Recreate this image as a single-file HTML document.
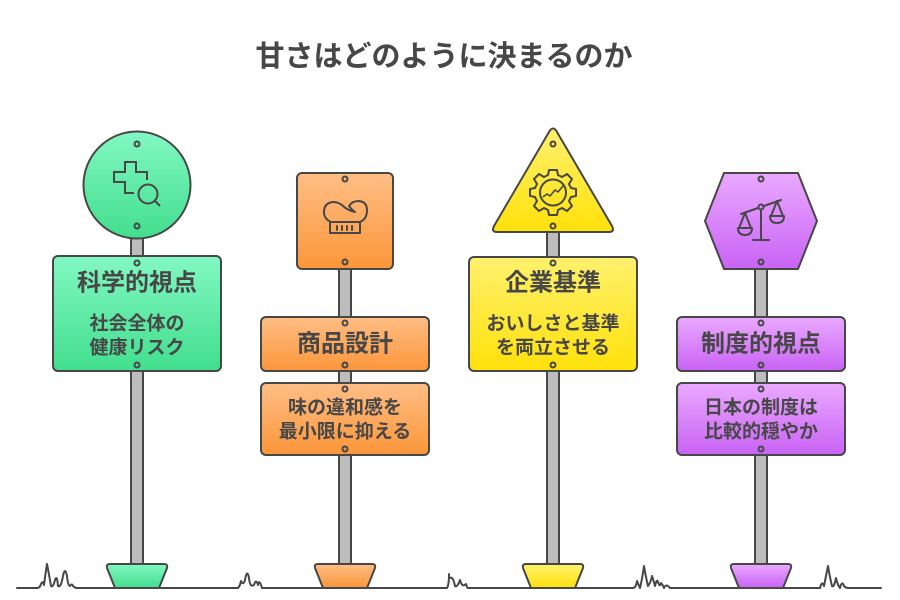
<!DOCTYPE html>
<html><head><meta charset="utf-8"><style>
html,body{margin:0;padding:0;background:#fff;}
svg{display:block;}
text{font-family:"Liberation Sans","Noto Sans CJK JP",sans-serif;font-weight:bold;fill:#474747;}
</style></head><body>
<svg width="900" height="600" viewBox="0 0 900 600" xmlns="http://www.w3.org/2000/svg">
<defs>
<linearGradient id="gG" x1="0" y1="0" x2="0" y2="1"><stop offset="0" stop-color="#82f8c2"/><stop offset="1" stop-color="#42de8d"/></linearGradient>
<linearGradient id="gO" x1="0" y1="0" x2="0" y2="1"><stop offset="0" stop-color="#ffbe85"/><stop offset="1" stop-color="#fb963a"/></linearGradient>
<linearGradient id="gY" x1="0" y1="0" x2="0" y2="1"><stop offset="0" stop-color="#fff16e"/><stop offset="1" stop-color="#ffe10a"/></linearGradient>
<linearGradient id="gP" x1="0" y1="0" x2="0" y2="1"><stop offset="0" stop-color="#eaa9ff"/><stop offset="1" stop-color="#c963f5"/></linearGradient>
</defs>

<text x="444" y="57" font-size="29" text-anchor="middle" dominant-baseline="central">甘さはどのように決まるのか</text>

<!-- ground -->
<g fill="none" stroke="#474747" stroke-width="2" stroke-linejoin="round" stroke-linecap="round">
<path d="M17 588 H37 Q40 588 41 584 Q43 580 44 585 Q46 570 47 564 Q49 574 51 586 Q53 588 55 580 Q57 574 58 586 Q61 588 63 576 Q65 566 67 576 Q68 586 70 586 Q72 583 73 586 Q75 588 77 588 H238 Q240 586 241 581 Q243 586 245 580 Q247 568 249 578 Q250 588 254 585 Q256 578 258 585 Q259 578 262 588 H447 Q449 585 449 574"/>
<path d="M450 578 Q453 576 455 586 Q457 588 460 580 Q462 588 466 584 Q467 588 468 588 H633 Q636 588 637 581 Q639 586 640 588 Q642 580 644 566 Q646 578 648 586 Q651 582 652 576 Q654 582 655 586 Q657 578 658 582 Q660 588 661 583 Q663 585 664 588 Q666 583 670 588 H820 Q822 580 824 586 Q826 576 828 566 Q830 578 832 586 Q834 588 836 578 Q838 586 840 588 Q842 580 844 586 Q846 588 848 588 H881"/>
</g>

<!-- poles -->
<g fill="#bdbdbd" stroke="#474747" stroke-width="2">
<rect x="131" y="225" width="12" height="342"/>
<rect x="339" y="260" width="12" height="307"/>
<rect x="547" y="225" width="12" height="342"/>
<rect x="755" y="260" width="12" height="307"/>
</g>

<!-- bases -->
<g stroke="#474747" stroke-width="2" stroke-linejoin="round">
<path d="M110 564 H164 Q168 564 167 568 L159 588 H115 L107 568 Q106 564 110 564 Z" fill="url(#gG)"/>
<path d="M318 564 H372 Q376 564 375 568 L367 588 H323 L315 568 Q314 564 318 564 Z" fill="url(#gO)"/>
<path d="M526 564 H580 Q584 564 583 568 L575 588 H531 L523 568 Q522 564 526 564 Z" fill="url(#gY)"/>
<path d="M734 564 H788 Q792 564 791 568 L783 588 H739 L731 568 Q730 564 734 564 Z" fill="url(#gP)"/>
</g>

<!-- GREEN -->
<g stroke="#474747" stroke-width="2">
<circle cx="137" cy="185" r="53.5" fill="url(#gG)"/>
<rect x="53" y="256" width="168" height="115" rx="5" fill="url(#gG)"/>
</g>
<g fill="none" stroke="#474747" stroke-width="2">
<circle cx="137" cy="144" r="2.5"/><circle cx="137" cy="226" r="2.5"/>
<circle cx="137" cy="263" r="2.5"/><circle cx="137" cy="365" r="2.5"/>
<path d="M134 193 H125 V182 H114 V172 H125 V162 H136 V172 H147 V180" stroke-linejoin="miter"/>
<circle cx="148" cy="194" r="9.5"/>
<path d="M155 201 L160 206"/>
</g>
<text x="137" y="283" font-size="24" text-anchor="middle" dominant-baseline="central">科学的視点</text>
<text x="137" y="324" font-size="19" text-anchor="middle" dominant-baseline="central">社会全体の</text>
<text x="137" y="348" font-size="19" text-anchor="middle" dominant-baseline="central">健康リスク</text>

<!-- ORANGE -->
<g stroke="#474747" stroke-width="2">
<rect x="297" y="173" width="96" height="96" rx="5" fill="url(#gO)"/>
<rect x="261" y="317" width="168" height="54" rx="5" fill="url(#gO)"/>
<rect x="261" y="383" width="168" height="72" rx="5" fill="url(#gO)"/>
</g>
<g fill="none" stroke="#474747" stroke-width="2" stroke-linecap="round" stroke-linejoin="round">
<circle cx="345" cy="179" r="2.5"/><circle cx="345" cy="262" r="2.5"/>
<circle cx="345" cy="323" r="2.5"/><circle cx="345" cy="365" r="2.5"/>
<circle cx="345" cy="389" r="2.5"/><circle cx="345" cy="449" r="2.5"/>
<path d="M331 222 H360 Q367 219 367 210 Q367 202 359 201 Q352 201 349 206 Q353 211 355 212 Q347 210 343 206 Q339 202 333 202 Q324 203 324 212 Q324 219 331 222 Z"/>
<rect x="330" y="222" width="30" height="11"/>
<path d="M337 226 V230 M342 226 V230 M347 226 V230 M352 226 V230"/>
</g>
<text x="345" y="344" font-size="24" text-anchor="middle" dominant-baseline="central">商品設計</text>
<text x="345" y="408" font-size="19" text-anchor="middle" dominant-baseline="central">味の違和感を</text>
<text x="345" y="432" font-size="19" text-anchor="middle" dominant-baseline="central">最小限に抑える</text>

<!-- YELLOW -->
<g stroke="#474747" stroke-width="2" stroke-linejoin="round">
<path d="M549 132 Q553 125 557 132 L612 226 Q615 232 609 232 H497 Q491 232 494 226 Z" fill="url(#gY)"/>
<rect x="469" y="257" width="168" height="114" rx="5" fill="url(#gY)"/>
</g>
<g fill="none" stroke="#474747" stroke-width="2" stroke-linejoin="round">
<circle cx="553" cy="144" r="2.5"/><circle cx="553" cy="226" r="2.5"/>
<circle cx="553" cy="263" r="2.5"/><circle cx="553" cy="365" r="2.5"/>
<path d="M549 170 H557 L558 175 L562 177 L567 174 L572 179 L569 184 L571 188 L576 189 V196 L571 197 L569 201 L572 206 L567 211 L562 208 L558 210 L557 215 H549 L548 210 L544 208 L539 211 L534 206 L537 201 L535 197 L530 196 V189 L535 188 L537 184 L534 179 L539 174 L544 177 L548 175 Z"/>
<circle cx="553" cy="192.5" r="13"/>
<path d="M543 197 L547 194 L550 196 L555 190 L558 192 L563 186" stroke-width="1.6"/>
</g>
<text x="553" y="283" font-size="24" text-anchor="middle" dominant-baseline="central">企業基準</text>
<text x="553" y="324" font-size="19" text-anchor="middle" dominant-baseline="central">おいしさと基準</text>
<text x="553" y="348" font-size="19" text-anchor="middle" dominant-baseline="central">を両立させる</text>

<!-- PURPLE -->
<g stroke="#474747" stroke-width="2" stroke-linejoin="round">
<path d="M724 173 H798 L817 221 L798 269 H724 L705 221 Z" fill="url(#gP)"/>
<rect x="677" y="317" width="168" height="54" rx="5" fill="url(#gP)"/>
<rect x="677" y="383" width="168" height="72" rx="5" fill="url(#gP)"/>
</g>
<g fill="none" stroke="#474747" stroke-width="2" stroke-linecap="round" stroke-linejoin="round">
<circle cx="761" cy="179" r="2.5"/><circle cx="761" cy="262" r="2.5"/>
<circle cx="761" cy="323" r="2.5"/><circle cx="761" cy="365" r="2.5"/>
<circle cx="761" cy="389" r="2.5"/><circle cx="761" cy="449" r="2.5"/>
<circle cx="761" cy="207" r="2.5"/>
<path d="M761 210 V240 M753 240 H769"/>
<path d="M741 214 L758 208 M764 206 L781 200"/>
<path d="M745 213 L739 228 M745 213 L751 228"/>
<path d="M738 228 H752 Q752 235 745 235 Q738 235 738 228 Z"/>
<path d="M777 201 L771 216 M777 201 L783 216"/>
<path d="M770 216 H784 Q784 223 777 223 Q770 223 770 216 Z"/>
</g>
<text x="761" y="344" font-size="24" text-anchor="middle" dominant-baseline="central">制度的視点</text>
<text x="761" y="408" font-size="19" text-anchor="middle" dominant-baseline="central">日本の制度は</text>
<text x="761" y="432" font-size="19" text-anchor="middle" dominant-baseline="central">比較的穏やか</text>
</svg>
</body></html>
